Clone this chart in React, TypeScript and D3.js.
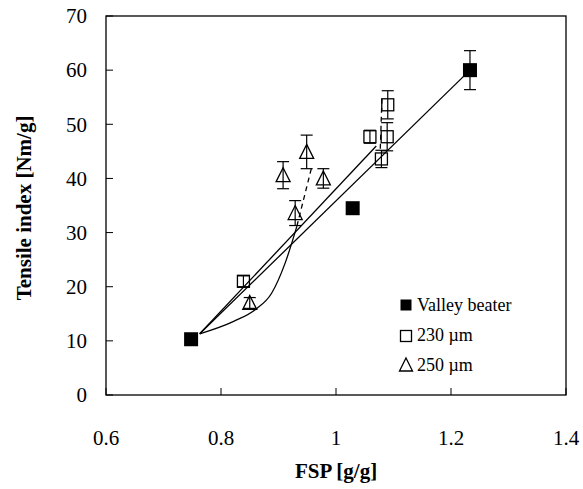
import React from 'react';
import * as d3 from 'd3';

// FSP [g/g], tensile index [Nm/g], error (+/-)
const valleyX = [0.748, 1.029, 1.233];
const valleyY = [10.3, 34.5, 60.0];
const valleyErr = [0.5, 0.5, 3.6];

const s230X = [0.839, 1.059, 1.079, 1.089, 1.090];
const s230Y = [21.0, 47.7, 43.6, 47.7, 53.6];
const s230Err = [1.0, 1.2, 1.6, 2.6, 2.6];

const s250X = [0.850, 0.908, 0.929, 0.949, 0.978];
const s250Y = [17.0, 40.6, 33.6, 44.9, 40.0];
const s250Err = [1.0, 2.5, 2.3, 3.1, 1.8];

// trend lines
const valleyLine: [number, number][] = [[0.763, 11.3], [1.233, 60.0]];
const line230: [number, number][] = [[0.763, 11.3], [1.07, 46.0]];
const curve250: [number, number][] = [[0.763, 11.3], [0.822, 13.6], [0.86, 15.8], [0.888, 18.8], [0.912, 24.5], [0.932, 31.2]];
const dashed250: [number, number][] = [[0.932, 31.2], [0.958, 42.2]];
const dashed230: [number, number][] = [[1.077, 45.5], [1.080, 55.0]];

const xTicks = [0.6, 0.8, 1, 1.2, 1.4];
const yTicks = [0, 10, 20, 30, 40, 50, 60, 70];
const legendLabels = ['Valley beater', '230 µm', '250 µm'];

const FONT = '"Liberation Serif", "Times New Roman", serif';

export default function App() {
  const x = d3.scaleLinear().domain([0.6, 1.4]).range([106, 566]);
  const y = d3.scaleLinear().domain([0, 70]).range([395, 16]);

  const line = d3.line<[number, number]>().x(d => x(d[0])).y(d => y(d[1]));
  const smooth = d3.line<[number, number]>().x(d => x(d[0])).y(d => y(d[1])).curve(d3.curveMonotoneX);

  const errBar = (px: number, py: number, e: number, k: string) => {
    const cx = x(px), top = y(py + e), bot = y(py - e);
    return (
      <g key={k} stroke="#000" strokeWidth={1.2}>
        <line x1={cx} x2={cx} y1={top} y2={bot} />
        <line x1={cx - 6} x2={cx + 6} y1={top} y2={top} />
        <line x1={cx - 6} x2={cx + 6} y1={bot} y2={bot} />
      </g>
    );
  };

  const tri = (cx: number, cy: number, w: number, h: number) =>
    `M${cx},${cy - h / 2 - 1}L${cx + w / 2},${cy + h / 2}L${cx - w / 2},${cy + h / 2}Z`;

  return (
    <svg width={583} height={489} style={{ position: 'absolute', left: 0, top: 0, background: '#fff' }} fontFamily={FONT}>
      <rect x={0} y={0} width={583} height={489} fill="#fff" />
      {/* frame */}
      <rect x={106} y={16} width={460} height={379} fill="none" stroke="#000" strokeWidth={1.3} />

      {/* ticks */}
      {yTicks.map(t => (
        <g key={'y' + t}>
          <line x1={106} x2={113} y1={y(t)} y2={y(t)} stroke="#000" strokeWidth={1} />
          <text x={87} y={y(t)} dy="0.35em" textAnchor="end" fontSize={21}>{t}</text>
        </g>
      ))}
      {xTicks.map(t => (
        <g key={'x' + t}>
          <line x1={x(t)} x2={x(t)} y1={395} y2={388} stroke="#000" strokeWidth={1} />
          <text x={x(t)} y={445} textAnchor="middle" fontSize={21}>{String(t)}</text>
        </g>
      ))}

      {/* axis titles */}
      <text x={336} y={478} textAnchor="middle" fontSize={21} fontWeight="bold">FSP [g/g]</text>
      <text transform="translate(31,208) rotate(-90)" textAnchor="middle" fontSize={21} fontWeight="bold">Tensile index [Nm/g]</text>

      {/* lines */}
      <g fill="none" stroke="#000" strokeWidth={1.3}>
        <path d={line(valleyLine) || ''} />
        <path d={line(line230) || ''} />
        <path d={smooth(curve250) || ''} />
        <path d={line(dashed250) || ''} strokeDasharray="5,4" />
        <path d={line(dashed230) || ''} strokeDasharray="5,4" />
      </g>

      {/* 250 um */}
      {s250X.map((v, i) => (
        <g key={'t' + i}>
          <path d={tri(x(v), y(s250Y[i]), 14, 13)} fill="none" stroke="#000" strokeWidth={1.3} />
          {errBar(v, s250Y[i], s250Err[i], 'te' + i)}
        </g>
      ))}

      {/* 230 um */}
      {s230X.map((v, i) => (
        <g key={'s' + i}>
          <rect x={x(v) - 6} y={y(s230Y[i]) - 6} width={12} height={12} fill="none" stroke="#000" strokeWidth={1.3} />
          {errBar(v, s230Y[i], s230Err[i], 'se' + i)}
        </g>
      ))}

      {/* valley beater */}
      {valleyX.map((v, i) => (
        <g key={'v' + i}>
          {errBar(v, valleyY[i], valleyErr[i], 've' + i)}
          <rect x={x(v) - 7} y={y(valleyY[i]) - 7} width={14} height={14} fill="#000" />
        </g>
      ))}

      {/* legend */}
      <g fontSize={18}>
        <rect x={400.5} y={299.5} width={11} height={11} fill="#000" />
        <text x={417} y={311}>{legendLabels[0]}</text>
        <rect x={400.5} y={330.5} width={11} height={11} fill="none" stroke="#000" strokeWidth={1.3} />
        <text x={417} y={341}>{legendLabels[1]}</text>
        <path d={tri(406, 365, 13, 12)} fill="none" stroke="#000" strokeWidth={1.3} />
        <text x={417} y={371}>{legendLabels[2]}</text>
      </g>
    </svg>
  );
}
